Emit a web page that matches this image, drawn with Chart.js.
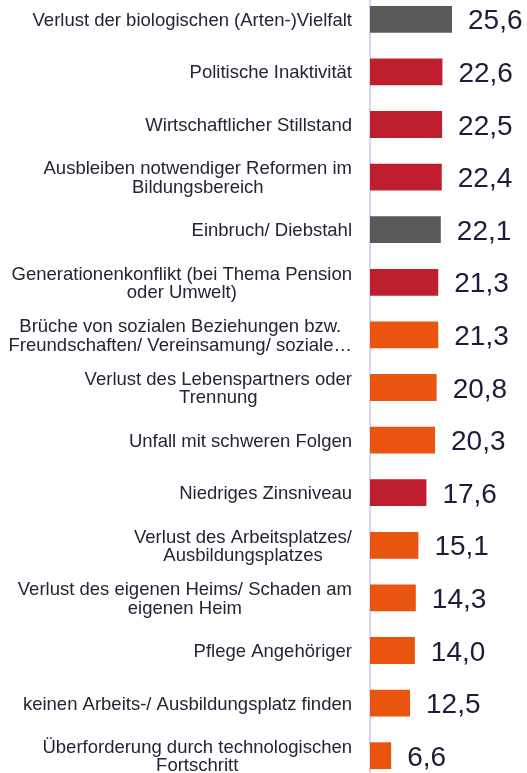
<!DOCTYPE html>
<html>
<head>
<meta charset="utf-8">
<script src="https://cdn.jsdelivr.net/npm/chart.js@4/dist/chart.umd.min.js"></script>
<style>
  html, body { margin: 0; padding: 0; background: #fff; overflow: hidden; }
  #wrap { position: absolute; left: 0; top: -7px; width: 527px; height: 789px; }
</style>
</head>
<body>
<div id="wrap"><canvas id="graph"></canvas></div>
<script>
// Data
const categories = [
  ['Verlust der biologischen (Arten-)Vielfalt'],
  ['Politische Inaktivität'],
  ['Wirtschaftlicher Stillstand'],
  ['Ausbleiben notwendiger Reformen im', 'Bildungsbereich'],
  ['Einbruch/ Diebstahl'],
  ['Generationenkonflikt (bei Thema Pension', 'oder Umwelt)'],
  ['Brüche von sozialen Beziehungen bzw.', 'Freundschaften/ Vereinsamung/ soziale…'],
  ['Verlust des Lebenspartners oder', 'Trennung'],
  ['Unfall mit schweren Folgen'],
  ['Niedriges Zinsniveau'],
  ['Verlust des Arbeitsplatzes/', 'Ausbildungsplatzes'],
  ['Verlust des eigenen Heims/ Schaden am', 'eigenen Heim'],
  ['Pflege Angehöriger'],
  ['keinen Arbeits-/ Ausbildungsplatz finden'],
  ['Überforderung durch technologischen', 'Fortschritt']
];
const values = [25.6, 22.6, 22.5, 22.4, 22.1, 21.3, 21.3, 20.8, 20.3, 17.6, 15.1, 14.3, 14.0, 12.5, 6.6];
// g = grey, r = red, o = orange
const groups = ['g', 'r', 'r', 'r', 'g', 'r', 'o', 'o', 'o', 'r', 'o', 'o', 'o', 'o', 'o'];

const palette = { g: '#5a5a5a', r: '#be1e2d', o: '#e9550e' };
const FONT = '"Liberation Sans", Arial, sans-serif';

// draws the category labels (centered lines, right-aligned block) and the value labels
const labelPlugin = {
  id: 'labels',
  afterDatasetsDraw(chart) {
    const ctx = chart.ctx;
    const yScale = chart.scales.y;
    const xScale = chart.scales.x;
    const right = 352;
    const lineH = 18.5;

    ctx.save();
    ctx.font = '18.5px ' + FONT;
    ctx.fillStyle = '#262335';
    ctx.textAlign = 'center';
    ctx.textBaseline = 'alphabetic';
    categories.forEach((lines, i) => {
      const cy = yScale.getPixelForValue(i);
      const blockW = Math.max(...lines.map(l => ctx.measureText(l).width));
      const cx = right - blockW / 2;
      const top = cy - (lines.length - 1) * lineH / 2;
      lines.forEach((l, j) => {
        ctx.fillText(l, cx, top + j * lineH + 6.5);
      });
    });

    ctx.font = '28px ' + FONT;
    ctx.fillStyle = '#1e1b3b';
    ctx.textAlign = 'left';
    values.forEach((v, i) => {
      const x = xScale.getPixelForValue(v) + 16;
      const y = yScale.getPixelForValue(i) + 10;
      ctx.fillText(v.toFixed(1).replace('.', ','), x, y);
    });
    ctx.restore();
  }
};

const config = {
  type: 'bar',
  data: {
    labels: categories,
    datasets: [{
      data: values,
      backgroundColor: groups.map(g => palette[g]),
      borderWidth: 0,
      barPercentage: 0.51,
      categoryPercentage: 1
    }]
  },
  options: {
    indexAxis: 'y',
    responsive: true,
    maintainAspectRatio: false,
    animation: false,
    layout: { padding: 0 },
    plugins: {
      legend: { display: false },
      tooltip: { enabled: false }
    },
    scales: {
      x: {
        display: false,
        min: 0,
        max: 49
      },
      y: {
        grid: { display: false, drawTicks: false },
        ticks: { display: false },
        border: { display: true, color: '#d9d4f0', width: 2 },
        afterFit: (scale) => { scale.width = 370; }
      }
    }
  },
  plugins: [labelPlugin]
};

const myChart = new Chart(document.getElementById('graph').getContext('2d'), config);
</script>
</body>
</html>
